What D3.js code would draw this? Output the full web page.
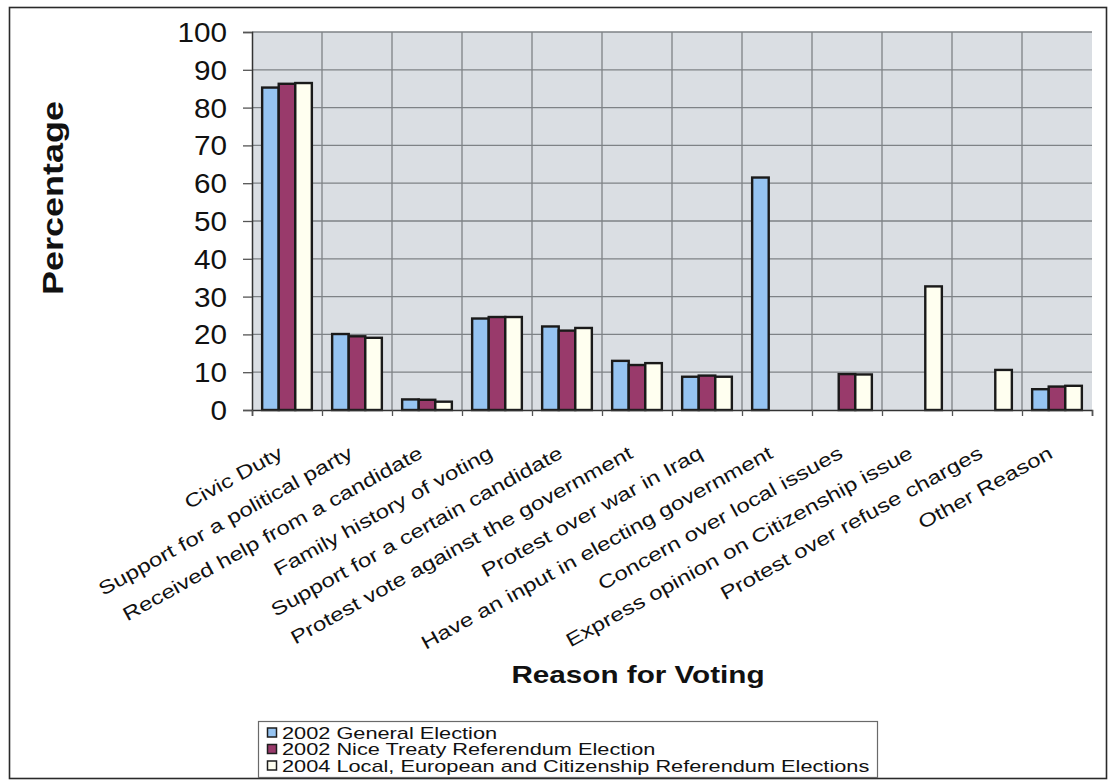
<!DOCTYPE html>
<html>
<head>
<meta charset="utf-8">
<script src="https://cdn.jsdelivr.net/npm/d3@7"></script>
<style>
  html, body { margin: 0; padding: 0; background: #ffffff; }
  svg { display: block; }
  text { font-family: "Liberation Sans", Arial, Helvetica, sans-serif; fill: #111; }
</style>
</head>
<body>
<svg id="chart" width="1109" height="782"></svg>
<script>
// Reasons given for voting, per election
const categories = [
  "Civic Duty",
  "Support for a political party",
  "Received help from a candidate",
  "Family history of voting",
  "Support for a certain candidate",
  "Protest vote against the government",
  "Protest over war in Iraq",
  "Have an input in electing government",
  "Concern over local issues",
  "Express opinion on Citizenship issue",
  "Protest over refuse charges",
  "Other Reason"
];
const seriesNames = [
  "2002 General Election",
  "2002 Nice Treaty Referendum Election",
  "2004 Local, European and Citizenship Referendum Elections"
];
const general2002 = [85.3, 20.1, 2.8, 24.2, 22.1, 13.0, 8.8, 61.5, null, null, null, 5.5];
const nice2002    = [86.3, 19.5, 2.7, 24.6, 21.0, 11.9, 9.1, null, 9.5, null, null, 6.2];
const local2004   = [86.5, 19.1, 2.2, 24.6, 21.7, 12.4, 8.8, null, 9.4, 32.7, 10.6, 6.4];
const yTicks = [0, 10, 20, 30, 40, 50, 60, 70, 80, 90, 100];
const seriesColors = ["#96c4f2", "#993a6b", "#fffff0"];

const seriesValues = [general2002, nice2002, local2004];

const svg = d3.select("#chart");

// Text stretched along its baseline (wide rendering of the chart fonts)
function wideText(parent, x, y, angle, sx, str, size, anchor, weight) {
  const g = parent.append("g")
    .attr("transform", `translate(${x},${y}) rotate(${angle}) scale(${sx},1)`);
  g.append("text")
    .attr("x", 0).attr("y", 0)
    .attr("text-anchor", anchor)
    .style("font-size", size + "px")
    .style("font-weight", weight || "normal")
    .text(str);
  return g;
}

// outer frame
svg.append("rect")
  .attr("x", 9.5).attr("y", 7.5)
  .attr("width", 1097).attr("height", 771)
  .attr("fill", "#ffffff")
  .attr("stroke", "#2a2a2a").attr("stroke-width", 1.6);

const plot = { left: 252, right: 1092, top: 32, bottom: 410 };

const x0 = d3.scaleBand()
  .domain(categories)
  .range([plot.left, plot.right])
  .paddingInner(0.29)
  .paddingOuter(0.145);

const x1 = d3.scaleBand()
  .domain(d3.range(seriesValues.length))
  .range([0, x0.bandwidth()])
  .padding(0);

const y = d3.scaleLinear().domain([0, 100]).range([plot.bottom, plot.top]);

// plot area background
svg.append("rect")
  .attr("x", plot.left).attr("y", plot.top)
  .attr("width", plot.right - plot.left).attr("height", plot.bottom - plot.top)
  .attr("fill", "#dadee3");

// horizontal gridlines
svg.append("g")
  .selectAll("line")
  .data(yTicks.filter(t => t > 0))
  .join("line")
  .attr("x1", plot.left).attr("x2", plot.right)
  .attr("y1", d => y(d)).attr("y2", d => y(d))
  .attr("stroke", "#7e8286").attr("stroke-width", 1.3);

// vertical category gridlines
const step = x0.step();
svg.append("g")
  .selectAll("line")
  .data(d3.range(1, categories.length))
  .join("line")
  .attr("x1", i => plot.left + i * step).attr("x2", i => plot.left + i * step)
  .attr("y1", plot.top).attr("y2", plot.bottom)
  .attr("stroke", "#7e8286").attr("stroke-width", 1.3);

// bars
const groups = svg.append("g")
  .selectAll("g")
  .data(categories)
  .join("g")
  .attr("transform", d => `translate(${x0(d)},0)`);

groups.selectAll("rect")
  .data((d, i) => seriesValues.map((vals, s) => ({ s, v: vals[i] })).filter(e => e.v != null))
  .join("rect")
  .attr("x", e => x1(e.s))
  .attr("y", e => y(e.v))
  .attr("width", x1.bandwidth())
  .attr("height", e => y(0) - y(e.v))
  .attr("fill", e => seriesColors[e.s])
  .attr("stroke", "#1a1a1a")
  .attr("stroke-width", 2.4);

// y axis
const yAxis = d3.axisLeft(y).tickValues(yTicks).tickSize(9).tickFormat("");
const yg = svg.append("g").attr("transform", `translate(${plot.left},0)`).call(yAxis);
yg.select(".domain").attr("stroke", "#333").attr("stroke-width", 1.5);
yg.selectAll(".tick line").attr("stroke", "#555").attr("stroke-width", 1.3);

yTicks.forEach(t => {
  wideText(svg, 227, y(t) + 10, 0, 1.06, String(t), 28, "end");
});

// x axis
const xAxis = d3.axisBottom(
  d3.scaleLinear().domain([0, categories.length]).range([plot.left, plot.right])
).tickValues(d3.range(0, categories.length + 1)).tickSize(6).tickFormat("");
const xg = svg.append("g").attr("transform", `translate(0,${plot.bottom})`).call(xAxis);
xg.select(".domain").attr("stroke", "#333").attr("stroke-width", 1.5);
xg.selectAll(".tick line").attr("stroke", "#555").attr("stroke-width", 1.3);

// category labels, slanted
categories.forEach(c => {
  const cx = x0(c) + x0.bandwidth() / 2;
  wideText(svg, cx - 3, 457, -29, 1.27, c, 19, "end");
});

// axis titles
wideText(svg, 63, 198, -90, 1.2, "Percentage", 30, "middle", "bold");
wideText(svg, 638, 683, 0, 1.29, "Reason for Voting", 23, "middle", "bold");

// legend
const legend = svg.append("g");
legend.append("rect")
  .attr("x", 258.5).attr("y", 721.5)
  .attr("width", 619).attr("height", 56)
  .attr("fill", "#ffffff")
  .attr("stroke", "#6a6a6a").attr("stroke-width", 1.2);

seriesNames.forEach((name, i) => {
  const cy = 733 + i * 16.5;
  legend.append("rect")
    .attr("x", 267.5).attr("y", cy - 5)
    .attr("width", 9).attr("height", 9)
    .attr("fill", seriesColors[i])
    .attr("stroke", "#1e1e1e").attr("stroke-width", 1.5);
  wideText(legend, 282, cy + 5.5, 0, 1.36, name, 16, "start");
});
</script>
</body>
</html>
